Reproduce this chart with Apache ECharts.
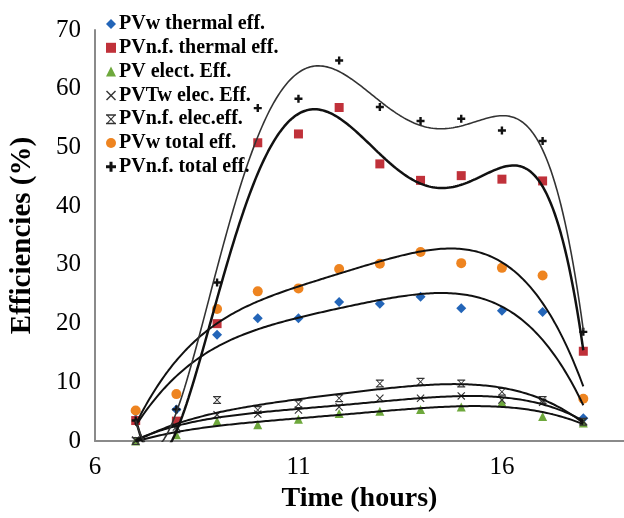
<!DOCTYPE html>
<html>
<head>
<meta charset="utf-8">
<script src="https://cdn.jsdelivr.net/npm/echarts@6/dist/echarts.min.js"></script>
<style>html,body{margin:0;padding:0;background:#fff}#c{width:624px;height:518px}</style>
</head>
<body>
<div id="c"></div>
<script>
// ---- data ----
const hours = [7, 8, 9, 10, 11, 12, 13, 14, 15, 16, 17, 18];
const pvwThermal   = [5.0, 5.4, 18.1, 20.9, 20.9, 23.7, 23.4, 24.6, 22.6, 22.2, 22.0, 3.9];
const pvnfThermal  = [3.5, 3.4, 20.0, 50.8, 52.3, 56.8, 47.2, 44.4, 45.2, 44.6, 44.3, 15.3];
const pvElec       = [0.0, 1.1, 3.4, 2.8, 3.7, 4.7, 5.1, 5.4, 5.8, 6.6, 4.2, 3.1];
const pvtwElec     = [0.2, 2.4, 4.5, 4.6, 5.3, 5.8, 7.3, 7.3, 7.7, 7.0, 6.6, 3.4];
const pvnfElec     = [0.0, 2.0, 7.0, 5.3, 6.3, 7.3, 9.8, 10.1, 9.8, 8.4, 7.0, 3.3];
const pvwTotal     = [5.2, 8.0, 22.5, 25.5, 26.0, 29.3, 30.2, 32.2, 30.3, 29.5, 28.2, 7.2];
const pvnfTotal    = [3.5, 5.4, 27.0, 56.7, 58.3, 64.8, 56.9, 54.5, 54.9, 52.9, 51.1, 18.6];
const seriesNames = ['PVw thermal eff.', 'PVn.f. thermal eff.', 'PV elect. Eff.', 'PVTw elec. Eff.', 'PVn.f. elec.eff.', 'PVw total eff.', 'PVn.f. total eff.'];
const yTicks = [0, 10, 20, 30, 40, 50, 60, 70];
const xTicks = [6, 11, 16];
// polynomial trendline orders (Excel-style trendlines)
const trendOrders = [4, 6, 4, 4, 4, 4, 6];

// least squares polynomial fit of the data (trendline)
function polyfit(xs, ys, deg) {
  const c = 12.5, s = 5.5;
  const n = deg + 1;
  const A = [], b = [];
  for (let i = 0; i < n; i++) { A.push(new Array(n).fill(0)); b.push(0); }
  for (let k = 0; k < xs.length; k++) {
    const t = (xs[k] - c) / s;
    const p = [];
    for (let i = 0; i < n; i++) p.push(Math.pow(t, i));
    for (let i = 0; i < n; i++) {
      b[i] += p[i] * ys[k];
      for (let j = 0; j < n; j++) A[i][j] += p[i] * p[j];
    }
  }
  for (let i = 0; i < n; i++) {
    let m = i;
    for (let r = i + 1; r < n; r++) if (Math.abs(A[r][i]) > Math.abs(A[m][i])) m = r;
    [A[i], A[m]] = [A[m], A[i]]; [b[i], b[m]] = [b[m], b[i]];
    for (let r = i + 1; r < n; r++) {
      const f = A[r][i] / A[i][i];
      for (let j = i; j < n; j++) A[r][j] -= f * A[i][j];
      b[r] -= f * b[i];
    }
  }
  const co = new Array(n).fill(0);
  for (let i = n - 1; i >= 0; i--) {
    let sum = b[i];
    for (let j = i + 1; j < n; j++) sum -= A[i][j] * co[j];
    co[i] = sum / A[i][i];
  }
  return x => { const t = (x - c) / s; let v = 0; for (let i = n - 1; i >= 0; i--) v = v * t + co[i]; return v; };
}
function trend(ys, deg) {
  const f = polyfit(hours, ys, deg);
  const out = [];
  const x0 = hours[0], x1 = hours[hours.length - 1];
  for (let i = 0; i <= 220; i++) { const x = x0 + (x1 - x0) * i / 220; out.push([x, f(x)]); }
  return out;
}

const dataSets = [pvwThermal, pvnfThermal, pvElec, pvtwElec, pvnfElec, pvwTotal, pvnfTotal];
const symX = 'path://M0,1 L1,0 L5,4 L9,0 L10,1 L6,5 L10,9 L9,10 L5,6 L1,10 L0,9 L4,5 Z';
const symBarX = 'path://M0,0 L10,0 L10,1.5 L0,1.5 Z M0,8.5 L10,8.5 L10,10 L0,10 Z M1,1.5 L2.4,1.5 L5,4.2 L7.6,1.5 L9,1.5 L5.8,5 L9,8.5 L7.6,8.5 L5,5.8 L2.4,8.5 L1,8.5 L4.2,5 Z';
const symPlus = 'path://M3.5,0 L6.5,0 L6.5,3.5 L10,3.5 L10,6.5 L6.5,6.5 L6.5,10 L3.5,10 L3.5,6.5 L0,6.5 L0,3.5 L3.5,3.5 Z';
const styles = [
  { symbol: 'diamond', size: 10, color: '#2365b8' },
  { symbol: 'rect', size: 9, color: '#c0313a' },
  { symbol: 'triangle', size: 9, color: '#6ea83c' },
  { symbol: symX, size: 8, color: '#333333' },
  { symbol: symBarX, size: 8, color: '#333333' },
  { symbol: 'circle', size: 10, color: '#ee8420' },
  { symbol: symPlus, size: 8, color: '#111111' }
];
const trendStyles = [
  { width: 2, color: '#111' }, { width: 2.5, color: '#111' }, { width: 2, color: '#111' },
  { width: 2, color: '#111' }, { width: 2, color: '#111' }, { width: 2, color: '#111' },
  { width: 1.6, color: '#333' }
];

const series = [];
dataSets.forEach((d, i) => {
  series.push({
    name: seriesNames[i], type: 'scatter', symbol: styles[i].symbol, symbolSize: styles[i].size,
    itemStyle: { color: styles[i].color, opacity: 1 },
    data: hours.map((h, k) => [h, d[k]]), z: 2
  });
});
dataSets.forEach((d, i) => {
  series.push({
    type: 'line', data: trend(d, trendOrders[i]), showSymbol: false, silent: true, clip: true,
    lineStyle: { width: trendStyles[i].width, color: trendStyles[i].color }, z: 3
  });
});

const serif = '"Liberation Serif", "DejaVu Serif", serif';
const chart = echarts.init(document.getElementById('c'), null, { renderer: 'canvas' });
chart.setOption({
  animation: false,
  backgroundColor: '#ffffff',
  grid: { left: 95, right: 0, top: 30, bottom: 73, containLabel: false },
  legend: {
    data: seriesNames, orient: 'vertical', left: 101, top: 9,
    itemWidth: 10, itemHeight: 10, itemGap: 3.8,
    textStyle: { fontFamily: serif, fontWeight: 'bold', fontSize: 20, color: '#000', lineHeight: 20, padding: [0, 0, 0, -2] }
  },
  xAxis: {
    type: 'value', min: 6, max: 19, interval: 5,
    name: 'Time (hours)', nameLocation: 'middle', nameGap: 38,
    nameTextStyle: { fontFamily: serif, fontWeight: 'bold', fontSize: 28, color: '#000' },
    axisLine: { show: true, lineStyle: { color: '#8a8a8a', width: 2 } },
    axisTick: { show: false }, splitLine: { show: false },
    axisLabel: { fontFamily: serif, fontSize: 25, color: '#000', margin: 14, showMaxLabel: false,
      formatter: v => xTicks.indexOf(v) >= 0 ? String(v) : '' }
  },
  yAxis: {
    type: 'value', min: 0, max: 70, interval: 10,
    name: 'Efficiencies (%)', nameLocation: 'middle', nameGap: 58,
    nameTextStyle: { fontFamily: serif, fontWeight: 'bold', fontSize: 29, color: '#000' },
    axisLine: { show: true, lineStyle: { color: '#8a8a8a', width: 2 } },
    axisTick: { show: false }, splitLine: { show: false },
    axisLabel: { fontFamily: serif, fontSize: 25, color: '#000', margin: 14,
      formatter: v => yTicks.indexOf(v) >= 0 ? String(v) : '' }
  },
  series: series
});
</script>
</body>
</html>
